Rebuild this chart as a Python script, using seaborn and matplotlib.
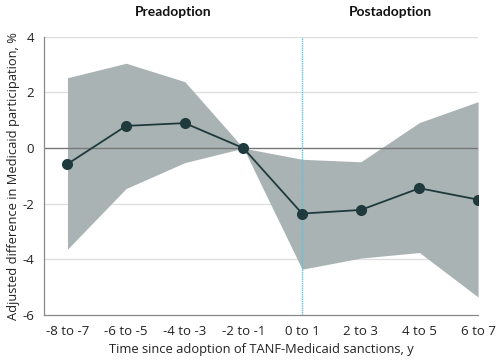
import pandas as pd
import seaborn as sns
import matplotlib.pyplot as plt

# values
periods = ["-8 to -7", "-6 to -5", "-4 to -3", "-2 to -1",
           "0 to 1", "2 to 3", "4 to 5", "6 to 7"]
estimate = [-0.57, 0.80, 0.90, 0.0, -2.35, -2.22, -1.44, -1.85]
ci_upper = [2.53, 3.05, 2.39, 0.0, -0.40, -0.49, 0.92, 1.67]
ci_lower = [-3.63, -1.45, -0.52, 0.0, -4.35, -3.95, -3.75, -5.35]
y_ticks = [-6, -4, -2, 0, 2, 4]

df = pd.DataFrame({"period": periods, "est": estimate,
                   "lo": ci_lower, "hi": ci_upper})
df["x"] = range(len(df))

sns.set_style("white")
plt.rcParams['font.family'] = ['Open Sans', 'DejaVu Sans']

fig = plt.figure(figsize=(4.97, 3.61), dpi=100)
ax = fig.add_axes([0.0885, 0.127, 0.8735, 0.771])

for v in y_ticks:
    if v == 0:
        ax.axhline(v, color="#777777", lw=1.0, zorder=1.5)
    elif v != -6:
        ax.axhline(v, color="#dddddd", lw=0.9, zorder=0)

ax.fill_between(df["x"], df["lo"], df["hi"], color="#a9b3b3", lw=0, zorder=1)
ax.axvline(4, color="#5bc4e0", lw=1.0, ls=(0, (1, 0.6)), zorder=2)
sns.lineplot(data=df, x="x", y="est", ax=ax, color="#1f3a3d", lw=1.3,
             marker="o", markersize=8, markeredgewidth=0, zorder=3)

ax.set_xlim(-0.4, 7)
ax.set_ylim(-6, 4)
ax.set_xticks(df["x"])
ax.set_xticklabels(periods)
ax.set_yticks(y_ticks)
ax.set_yticklabels([str(v) for v in y_ticks])
ax.tick_params(axis="both", length=4, width=0.8, color="#888888",
               labelsize=9.5, labelcolor="#222222", pad=3, direction="out")
for s in ["top", "right"]:
    ax.spines[s].set_visible(False)
for s in ["left", "bottom"]:
    ax.spines[s].set_color("#888888")
    ax.spines[s].set_linewidth(0.9)

ax.set_xlabel("Time since adoption of TANF-Medicaid sanctions, y",
              fontsize=9.3, color="#222222", labelpad=4)
ax.set_ylabel("Adjusted difference in Medicaid participation, %",
              fontsize=9.3, color="#222222", labelpad=2)

fig.text(173 / 497, 1 - 12 / 361, "Preadoption", ha="center", va="center",
         fontsize=10, fontweight="bold", color="#111111", family="Lato")
fig.text(390 / 497, 1 - 12 / 361, "Postadoption", ha="center", va="center",
         fontsize=10, fontweight="bold", color="#111111", family="Lato")

fig.savefig("out.png", dpi=100)
